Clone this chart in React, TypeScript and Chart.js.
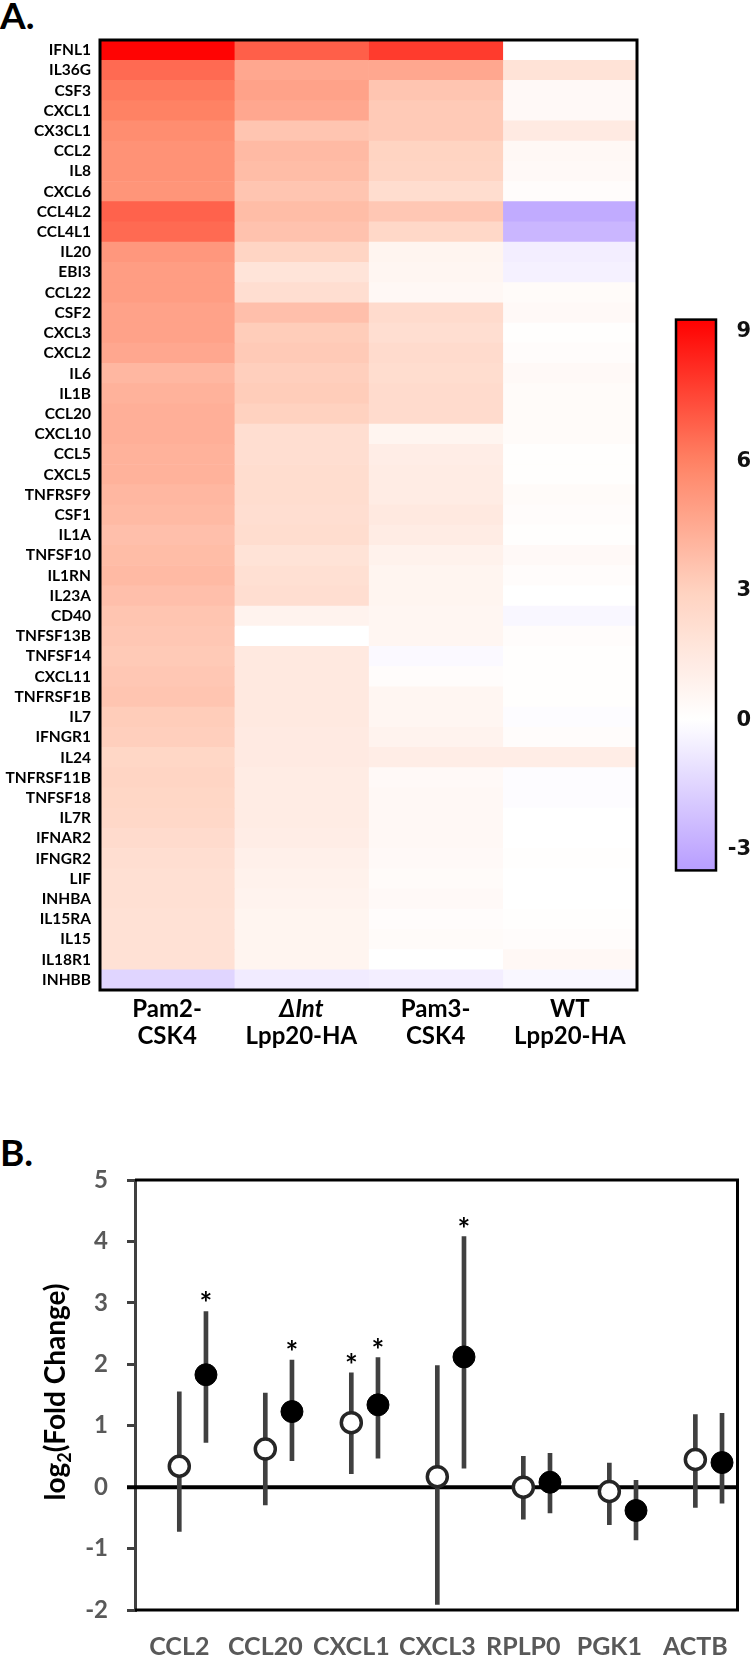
import React, { useEffect, useRef } from 'react';
import { Chart, registerables } from 'chart.js';

Chart.register(...registerables);

// ---------------- Panel A data ----------------
const genes = [
  'IFNL1', 'IL36G', 'CSF3', 'CXCL1', 'CX3CL1', 'CCL2', 'IL8', 'CXCL6', 'CCL4L2', 'CCL4L1',
  'IL20', 'EBI3', 'CCL22', 'CSF2', 'CXCL3', 'CXCL2', 'IL6', 'IL1B', 'CCL20', 'CXCL10',
  'CCL5', 'CXCL5', 'TNFRSF9', 'CSF1', 'IL1A', 'TNFSF10', 'IL1RN', 'IL23A', 'CD40', 'TNFSF13B',
  'TNFSF14', 'CXCL11', 'TNFRSF1B', 'IL7', 'IFNGR1', 'IL24', 'TNFRSF11B', 'TNFSF18', 'IL7R', 'IFNAR2',
  'IFNGR2', 'LIF', 'INHBA', 'IL15RA', 'IL15', 'IL18R1', 'INHBB',
];

const conditionLine1 = ['Pam2-', 'ΔInt', 'Pam3-', 'WT'];
const conditionLine2 = ['CSK4', 'Lpp20-HA', 'CSK4', 'Lpp20-HA'];

const pam2Values = [
  9.2, 6.6, 6.2, 6.0, 5.6, 5.4, 5.4, 5.3, 6.8, 6.6,
  5.2, 5.0, 5.0, 4.8, 4.8, 4.6, 4.0, 4.2, 4.3, 4.3,
  4.2, 4.2, 4.0, 3.9, 3.7, 3.8, 3.9, 3.7, 3.5, 3.4,
  3.3, 3.4, 3.5, 3.2, 3.1, 2.7, 2.8, 2.7, 2.6, 2.4,
  2.2, 2.1, 2.1, 2.0, 2.0, 2.0, -1.5,
];
const deltaIntValues = [
  6.9, 4.6, 4.8, 4.6, 3.5, 3.9, 3.8, 3.5, 3.8, 3.6,
  2.8, 1.8, 2.2, 3.7, 3.2, 3.3, 3.1, 3.2, 3.0, 2.2,
  2.2, 2.3, 2.3, 2.2, 2.3, 1.9, 2.1, 2.2, 0.8, 0.0,
  1.5, 1.5, 1.5, 1.5, 1.4, 1.4, 1.3, 1.3, 1.3, 1.2,
  1.0, 0.9, 0.8, 0.7, 0.7, 0.7, -0.7,
];
const pam3Values = [
  7.8, 4.6, 3.5, 3.3, 3.3, 2.9, 2.8, 2.3, 3.4, 2.6,
  0.7, 0.6, 0.5, 2.4, 2.2, 2.4, 2.3, 2.4, 2.4, 0.7,
  1.2, 1.3, 1.3, 1.5, 1.3, 0.9, 0.7, 0.7, 0.6, 0.6,
  -0.2, 0.2, 0.6, 0.6, 0.8, 1.2, 0.4, 0.5, 0.5, 0.5,
  0.4, 0.3, 0.4, 0.2, 0.3, 0.0, -0.6,
];
const wtValues = [
  0.0, 1.9, 0.4, 0.4, 1.4, 0.5, 0.4, 0.2, -3.0, -2.6,
  -0.6, -0.5, 0.3, 0.4, 0.1, 0.2, 0.4, 0.3, 0.3, 0.3,
  0.1, 0.1, 0.3, 0.2, 0.1, 0.4, 0.2, 0.0, -0.3, 0.2,
  0.1, 0.1, 0.1, -0.1, 0.2, 1.2, -0.1, -0.1, 0.0, 0.0,
  0.1, 0.0, 0.0, 0.1, 0.2, 0.5, -0.3,
];

const colorbarTicks = [-3, 0, 3, 6, 9];
const colorbarMin = -3.48;
const colorbarMax = 9.28;

// ---------------- Panel B data ----------------
const qpcrGenes = ['CCL2', 'CCL20', 'CXCL1', 'CXCL3', 'RPLP0', 'PGK1', 'ACTB'];
const openMean = [0.34, 0.62, 1.05, 0.17, 0.0, -0.07, 0.45];
const openHigh = [1.55, 1.53, 1.86, 1.98, 0.5, 0.39, 1.18];
const openLow = [-0.72, -0.29, 0.22, -1.91, -0.52, -0.61, -0.33];
const filledMean = [1.83, 1.23, 1.34, 2.12, 0.08, -0.38, 0.4];
const filledHigh = [2.86, 2.07, 2.11, 4.08, 0.55, 0.11, 1.2];
const filledLow = [0.73, 0.43, 0.47, 0.31, -0.42, -0.86, -0.26];
const openSig = [false, false, true, false, false, false, false];
const filledSig = [true, true, true, true, false, false, false];

// ---------------- styling ----------------
const COLOR_STOPS: number[][] = [
  [-3.5, 183, 157, 255],
  [0, 255, 255, 255],
  [3, 255, 210, 192],
  [6, 255, 130, 100],
  [9.3, 255, 0, 0],
];
const FILLED_OFFSET = 0.31;
const LATO = 'Lato, "Open Sans", sans-serif';

function cmap(v: number): string {
  const s = COLOR_STOPS;
  if (v <= s[0][0]) return `rgb(${s[0][1]},${s[0][2]},${s[0][3]})`;
  for (let i = 1; i < s.length; i++) {
    if (v <= s[i][0]) {
      const a = s[i - 1];
      const b = s[i];
      const t = (v - a[0]) / (b[0] - a[0]);
      const r = Math.round(a[1] + (b[1] - a[1]) * t);
      const g = Math.round(a[2] + (b[2] - a[2]) * t);
      const bl = Math.round(a[3] + (b[3] - a[3]) * t);
      return `rgb(${r},${g},${bl})`;
    }
  }
  const l = s[s.length - 1];
  return `rgb(${l[1]},${l[2]},${l[3]})`;
}

export default function App() {
  const heatRef = useRef<HTMLCanvasElement>(null);
  const barRef = useRef<HTMLCanvasElement>(null);
  const dotRef = useRef<HTMLCanvasElement>(null);

  useEffect(() => {
    document.body.style.margin = '0';
    const heatValues = [pam2Values, deltaIntValues, pam3Values, wtValues];

    const heatPlugin = {
      id: 'heatFrame',
      afterDraw(chart: any) {
        const { ctx, chartArea: a, scales } = chart;
        const x = scales.x;
        ctx.save();
        ctx.strokeStyle = '#000';
        ctx.lineWidth = 3;
        ctx.strokeRect(a.left, a.top, a.right - a.left, a.bottom - a.top);
        ctx.fillStyle = '#000';
        ctx.textBaseline = 'middle';
        const f = `bold 24px ${LATO}`;
        const fi = `italic bold 24px ${LATO}`;
        conditionLine1.forEach((t, j) => {
          const cx = x.getPixelForValue(j + 0.5);
          if (t.startsWith('Δ')) {
            const rest = t.slice(1);
            ctx.font = fi;
            const w1 = ctx.measureText('Δ').width;
            const w2 = ctx.measureText(rest).width;
            const start = cx - (w1 + w2) / 2;
            ctx.textAlign = 'left';
            ctx.fillText('Δ', start, a.bottom + 19);
            ctx.fillText(rest, start + w1, a.bottom + 19);
          } else {
            ctx.font = f;
            ctx.textAlign = 'center';
            ctx.fillText(t, cx, a.bottom + 19);
          }
          ctx.font = f;
          ctx.textAlign = 'center';
          ctx.fillText(conditionLine2[j], cx, a.bottom + 46);
        });
        ctx.restore();
      },
    };

    const heat = new Chart(heatRef.current!, {
      type: 'bar',
      data: {
        labels: genes,
        datasets: heatValues.map((vals, j) => ({
          label: conditionLine1[j] + conditionLine2[j],
          data: genes.map(() => [j, j + 1]),
          backgroundColor: vals.map(cmap),
          borderWidth: 0,
          barPercentage: 1,
          categoryPercentage: 1,
          grouped: false,
        })) as any,
      },
      options: {
        indexAxis: 'y',
        animation: false,
        responsive: false,
        events: [],
        layout: { padding: { top: 40, right: 23, left: 0, bottom: 0 } },
        plugins: { legend: { display: false }, tooltip: { enabled: false } },
        scales: {
          x: {
            type: 'linear',
            min: 0,
            max: 4,
            position: 'bottom',
            ticks: { display: false },
            grid: { display: false, drawTicks: false },
            border: { display: false },
            afterFit: (s: any) => { s.height = 70; },
          },
          y: {
            type: 'category',
            position: 'left',
            ticks: {
              autoSkip: false,
              color: '#000',
              padding: 9,
              font: { family: LATO, weight: 'bold', size: 15.5 },
            },
            grid: { display: false, drawTicks: false },
            border: { display: false },
            afterFit: (s: any) => { s.width = 100; },
          },
        },
      } as any,
      plugins: [heatPlugin],
    });

    const cbPlugin = {
      id: 'cbFrame',
      afterDatasetsDraw(chart: any) {
        const { ctx, chartArea: a } = chart;
        ctx.save();
        ctx.strokeStyle = '#000';
        ctx.lineWidth = 2.5;
        ctx.strokeRect(a.left, a.top, a.right - a.left, a.bottom - a.top);
        ctx.restore();
      },
    };

    const cb = new Chart(barRef.current!, {
      type: 'bar',
      data: {
        labels: [''],
        datasets: [{
          data: [[colorbarMin, colorbarMax]],
          backgroundColor: (c: any) => {
            const chart = c.chart;
            if (!chart.chartArea) return '#fff';
            const ys = chart.scales.y;
            const y0 = ys.getPixelForValue(colorbarMin);
            const y1 = ys.getPixelForValue(colorbarMax);
            const g = chart.ctx.createLinearGradient(0, y0, 0, y1);
            const n = 40;
            for (let k = 0; k <= n; k++) {
              const t = k / n;
              g.addColorStop(t, cmap(colorbarMin + t * (colorbarMax - colorbarMin)));
            }
            return g;
          },
          borderWidth: 0,
          barPercentage: 1,
          categoryPercentage: 1,
        }] as any,
      },
      options: {
        animation: false,
        responsive: false,
        events: [],
        layout: { padding: { left: 16, top: 17, bottom: 18, right: 0 } },
        plugins: { legend: { display: false }, tooltip: { enabled: false } },
        scales: {
          x: { display: false },
          y: {
            position: 'right',
            min: colorbarMin,
            max: colorbarMax,
            afterBuildTicks: (s: any) => { s.ticks = colorbarTicks.map((v) => ({ value: v })); },
            ticks: {
              color: '#111',
              padding: 7,
              crossAlign: 'far',
              font: { family: '"DejaVu Sans"', weight: 'bold', size: 21 },
            },
            grid: { display: false, drawTicks: false },
            border: { display: false },
            afterFit: (s: any) => { s.width = 35; },
          },
        },
      } as any,
      plugins: [cbPlugin],
    });

    const dotFrame = {
      id: 'dotFrame',
      beforeDatasetsDraw(chart: any) {
        const { ctx, chartArea: a, scales } = chart;
        ctx.save();
        ctx.strokeStyle = '#000';
        ctx.lineWidth = 3;
        ctx.beginPath();
        ctx.moveTo(a.left, a.top);
        ctx.lineTo(a.right, a.top);
        ctx.lineTo(a.right, a.bottom);
        ctx.lineTo(a.left, a.bottom);
        ctx.stroke();
        const y0 = scales.y.getPixelForValue(0);
        ctx.lineWidth = 4;
        ctx.beginPath();
        ctx.moveTo(a.left - 8, y0);
        ctx.lineTo(a.right, y0);
        ctx.stroke();
        ctx.restore();
      },
      afterDatasetsDraw(chart: any) {
        const { ctx, scales } = chart;
        const xs = scales.x;
        const ys = scales.y;
        ctx.save();
        ctx.fillStyle = '#000';
        ctx.font = `bold 30px ${LATO}`;
        ctx.textAlign = 'center';
        ctx.textBaseline = 'alphabetic';
        qpcrGenes.forEach((g, i) => {
          if (openSig[i]) {
            ctx.fillText('*', xs.getPixelForValue(i), ys.getPixelForValue(openHigh[i]) + 3);
          }
          if (filledSig[i]) {
            ctx.fillText('*', xs.getPixelForValue(i + FILLED_OFFSET), ys.getPixelForValue(filledHigh[i]) + 3);
          }
        });
        ctx.restore();
      },
      afterDraw(chart: any) {
        const { ctx, chartArea: a } = chart;
        ctx.save();
        ctx.translate(57, (a.top + a.bottom) / 2 - 3);
        ctx.rotate(-Math.PI / 2);
        ctx.fillStyle = '#000';
        ctx.textBaseline = 'alphabetic';
        ctx.textAlign = 'left';
        const big = `bold 28px ${LATO}`;
        const small = `bold 18px ${LATO}`;
        const parts: [string, string, number][] = [['log', big, 0], ['2', small, 6], ['(Fold Change)', big, 0]];
        let total = 0;
        parts.forEach(([t, f]) => { ctx.font = f; total += ctx.measureText(t).width; });
        let xx = -total / 2;
        parts.forEach(([t, f, dy]) => {
          ctx.font = f;
          ctx.fillText(t, xx, 8 + dy);
          xx += ctx.measureText(t).width;
        });
        ctx.restore();
      },
    };

    const errData = [
      ...qpcrGenes.map((g, i) => ({ x: i, y: [openLow[i], openHigh[i]] })),
      ...qpcrGenes.map((g, i) => ({ x: i + FILLED_OFFSET, y: [filledLow[i], filledHigh[i]] })),
    ];

    const dot = new Chart(dotRef.current!, {
      type: 'bar',
      data: {
        datasets: [
          {
            type: 'scatter',
            label: 'open',
            data: qpcrGenes.map((g, i) => ({ x: i, y: openMean[i] })),
            pointRadius: 10,
            pointBackgroundColor: '#fff',
            pointBorderColor: '#262626',
            pointBorderWidth: 3.5,
            showLine: false,
            order: 1,
          },
          {
            type: 'scatter',
            label: 'filled',
            data: qpcrGenes.map((g, i) => ({ x: i + FILLED_OFFSET, y: filledMean[i] })),
            pointRadius: 11,
            pointBackgroundColor: '#000',
            pointBorderColor: '#000',
            pointBorderWidth: 1,
            showLine: false,
            order: 1,
          },
          {
            type: 'bar',
            label: 'range',
            data: errData,
            backgroundColor: '#404040',
            barThickness: 4,
            grouped: false,
            order: 3,
          },
        ] as any,
      },
      options: {
        animation: false,
        responsive: false,
        events: [],
        layout: { padding: { top: 50, right: 4, left: 0, bottom: 0 } },
        plugins: { legend: { display: false }, tooltip: { enabled: false } },
        scales: {
          x: {
            type: 'linear',
            min: -0.515,
            max: 6.49,
            offset: false,
            afterBuildTicks: (s: any) => { s.ticks = qpcrGenes.map((g, i) => ({ value: i })); },
            ticks: {
              autoSkip: false,
              maxRotation: 0,
              color: '#595959',
              padding: 22,
              font: { family: LATO, weight: 'bold', size: 25 },
              callback: (v: any) => qpcrGenes[Math.round(Number(v))],
            },
            grid: { display: false, drawTicks: false },
            border: { display: false },
            afterFit: (s: any) => { s.height = 48; },
          },
          y: {
            type: 'linear',
            min: -2,
            max: 5,
            ticks: {
              stepSize: 1,
              color: '#595959',
              padding: 19,
              font: { family: LATO, weight: 'bold', size: 24 },
            },
            grid: { drawOnChartArea: false, drawTicks: true, tickLength: 8, color: '#404040', lineWidth: 3 },
            border: { display: true, color: '#404040', width: 3 },
            afterFit: (s: any) => { s.width = 135; },
          },
        },
      } as any,
      plugins: [dotFrame],
    });

    return () => {
      heat.destroy();
      cb.destroy();
      dot.destroy();
    };
  }, []);

  const labelStyle: React.CSSProperties = {
    position: 'absolute',
    left: 0,
    fontFamily: LATO,
    fontWeight: 'bold',
    fontSize: 37,
    lineHeight: '37px',
    color: '#000',
  };

  return (
    <div style={{ position: 'relative', width: 751, height: 1658, background: '#fff', overflow: 'hidden' }}>
      <div style={{ ...labelStyle, top: -4 }}>A.</div>
      <canvas ref={heatRef} width={660} height={1060} style={{ position: 'absolute', left: 0, top: 0, width: 660, height: 1060 }} />
      <canvas ref={barRef} width={91} height={590} style={{ position: 'absolute', left: 660, top: 300, width: 91, height: 590 }} />
      <div style={{ ...labelStyle, top: 1133 }}>B.</div>
      <canvas ref={dotRef} width={751} height={528} style={{ position: 'absolute', left: 0, top: 1130, width: 751, height: 528 }} />
    </div>
  );
}
